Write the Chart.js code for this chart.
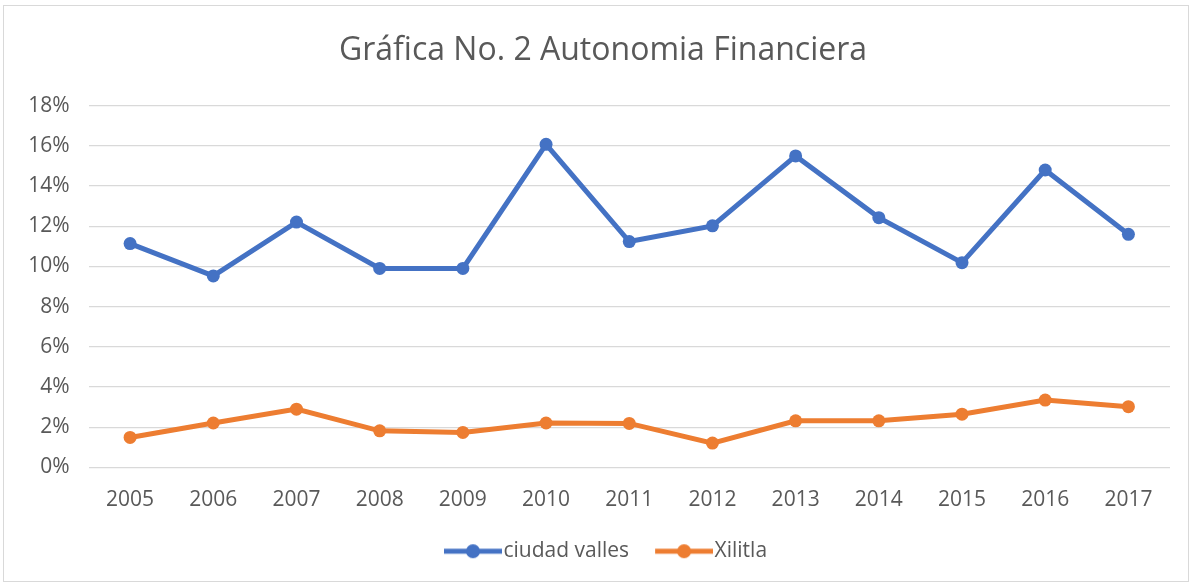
<!DOCTYPE html>
<html lang="es">
<head>
<meta charset="utf-8">
<title>Gráfica No. 2 Autonomia Financiera</title>
<script src="https://cdn.jsdelivr.net/npm/chart.js@4.4.1/dist/chart.umd.min.js"></script>
<style>
  html, body { margin: 0; padding: 0; background: #ffffff; }
  #wrap { position: relative; width: 1192px; height: 586px; }
</style>
</head>
<body>
<div id="wrap"><canvas id="grafica"></canvas></div>
<script>
// años y porcentajes de autonomía financiera
const years = ['2005', '2006', '2007', '2008', '2009', '2010', '2011', '2012', '2013', '2014', '2015', '2016', '2017'];
const ciudadValles = [11.14, 9.53, 12.21, 9.90, 9.90, 16.08, 11.24, 12.02, 15.50, 12.43, 10.19, 14.80, 11.60];
const xilitla = [1.49, 2.21, 2.90, 1.82, 1.74, 2.21, 2.19, 1.21, 2.32, 2.32, 2.65, 3.35, 3.02];
const yTicks = [0, 2, 4, 6, 8, 10, 12, 14, 16, 18];

const BLUE = '#4472C4';
const ORANGE = '#ED7D31';
const TEXT = '#595959';
const FONT = '"Open Sans", Lato, sans-serif';

// icono de leyenda: línea con marcador al centro (margen izquierdo transparente)
function legendIcon(color) {
  const c = document.createElement('canvas');
  c.width = 70;
  c.height = 18;
  const ctx = c.getContext('2d');
  ctx.strokeStyle = color;
  ctx.lineWidth = 5;
  ctx.beginPath();
  ctx.moveTo(12, 9);
  ctx.lineTo(70, 9);
  ctx.stroke();
  ctx.fillStyle = color;
  ctx.beginPath();
  ctx.arc(41, 9, 7, 0, Math.PI * 2);
  ctx.fill();
  return c;
}
const icons = [legendIcon(BLUE), legendIcon(ORANGE)];

// fondo blanco, marco; título y leyenda un poco a la derecha
const marco = {
  id: 'marco',
  afterLayout(chart) {
    chart.legend.left += 14;
    chart.legend.right += 14;
    chart.titleBlock.left += 13;
    chart.titleBlock.right += 13;
  },
  beforeDraw(chart) {
    const ctx = chart.ctx;
    ctx.save();
    ctx.fillStyle = '#ffffff';
    ctx.fillRect(0, 0, chart.width, chart.height);
    ctx.strokeStyle = '#d9d9d9';
    ctx.lineWidth = 1;
    ctx.strokeRect(3.5, 5.5, 1185, 576);
    ctx.restore();
  }
};

new Chart(document.getElementById('grafica'), {
  type: 'line',
  data: {
    labels: years,
    datasets: [
      {
        label: 'ciudad valles',
        data: ciudadValles,
        borderColor: BLUE,
        backgroundColor: BLUE,
        borderWidth: 5,
        pointRadius: 6.5,
        pointBackgroundColor: BLUE,
        pointBorderWidth: 0,
        tension: 0
      },
      {
        label: 'Xilitla',
        data: xilitla,
        borderColor: ORANGE,
        backgroundColor: ORANGE,
        borderWidth: 5,
        pointRadius: 6.5,
        pointBackgroundColor: ORANGE,
        pointBorderWidth: 0,
        tension: 0
      }
    ]
  },
  options: {
    responsive: true,
    maintainAspectRatio: false,
    animation: false,
    layout: { padding: { left: 10, right: 22, top: 0, bottom: 14.3 } },
    plugins: {
      title: {
        display: true,
        text: 'Gráfica No. 2 Autonomia Financiera',
        color: TEXT,
        font: { family: FONT, size: 32, weight: 'normal' },
        padding: { top: 32, bottom: 35.3 }
      },
      legend: {
        position: 'bottom',
        labels: {
          color: TEXT,
          font: { family: FONT, size: 21 },
          usePointStyle: true,
          pointStyleWidth: 52,
          padding: 23,
          generateLabels(chart) {
            const items = Chart.defaults.plugins.legend.labels.generateLabels(chart);
            items.forEach((it, i) => { it.pointStyle = icons[i]; });
            return items;
          }
        }
      },
      tooltip: { enabled: false }
    },
    scales: {
      x: {
        offset: true,
        grid: { display: false },
        border: { display: false },
        ticks: { color: TEXT, font: { family: FONT, size: 21 }, padding: 12 },
        afterFit(scale) { scale.height = 50.3; }
      },
      y: {
        min: 0,
        max: 18,
        afterBuildTicks(scale) { scale.ticks = yTicks.map(v => ({ value: v })); },
        grid: { color: '#d9d9d9', lineWidth: 1.3, drawTicks: false },
        border: { display: false },
        ticks: {
          color: TEXT,
          font: { family: FONT, size: 21 },
          padding: 19,
          callback: v => v + '%'
        },
        afterFit(scale) { scale.width = 78.5; }
      }
    }
  },
  plugins: [marco]
});
</script>
</body>
</html>
